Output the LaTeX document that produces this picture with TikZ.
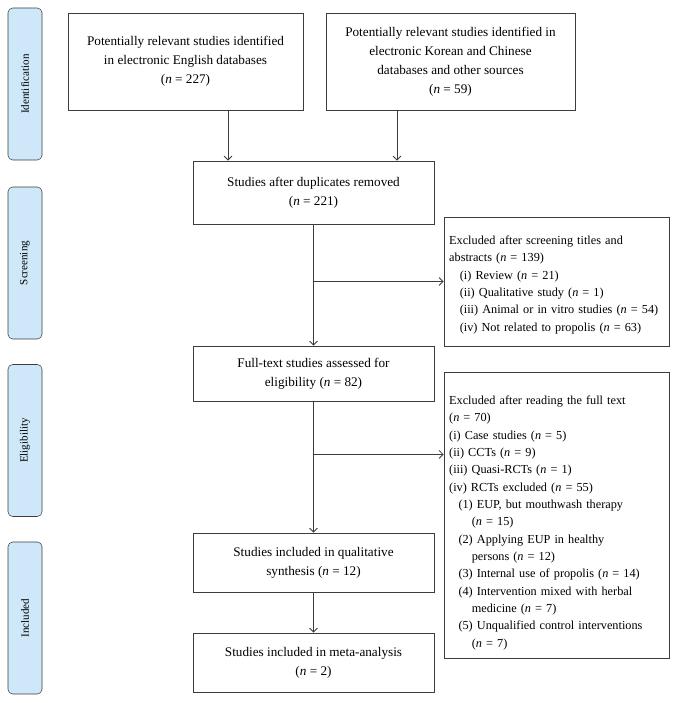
\documentclass[tikz,border=0pt]{standalone}
\usepackage{fontspec}
\setmainfont{Liberation Serif}
\usetikzlibrary{arrows.meta}
\definecolor{tabblue}{RGB}{206,232,250}
\definecolor{linegray}{RGB}{60,60,60}
\newcommand{\nn}{\textit{n}}
\begin{document}
\begin{tikzpicture}[x=0.75pt,y=0.75pt,yscale=-1,xscale=1,
	>={Straight Barb[length=3pt,width=6pt]},
	stagetab/.style={draw=linegray, fill=tabblue, rounded corners=3.5pt, rotate=90, minimum width=114pt, minimum height=25.5pt, inner sep=0pt, font=\fontsize{8.3}{10}\selectfont},
	flowbox/.style={draw=linegray, line width=0.6pt, align=center, inner sep=2pt, font=\fontsize{9.9}{14.25}\selectfont},
	mainbox/.style={flowbox, minimum width=180.75pt},
	sidebox/.style={flowbox, align=left, minimum width=168.75pt, text width=161pt, inner xsep=3.75pt, font=\fontsize{9.2}{13}\selectfont},
	link/.style={draw=linegray, line width=0.6pt}]
	\useasboundingbox (0,0) rectangle (678,703);

	%Shape: stage tabs
	\node[stagetab] (tabid) at (25,84) {Identification};
	\node[stagetab] (tabscr) at (25,263) {Screening};
	\node[stagetab] (tabelig) at (25,440.5) {Eligibility};
	\node[stagetab] (tabincl) at (25,618) {Included};

	%Shape: Identification boxes
	\node[flowbox, minimum width=176.25pt, minimum height=72.75pt] (english) at (185.5,61.5) {Potentially relevant studies identified\\ in electronic English databases\\ (\nn{} = 227)};
	\node[flowbox, minimum width=186.75pt, minimum height=72.75pt] (korean) at (450.5,61.5) {Potentially relevant studies identified in\\ electronic Korean and Chinese\\ databases and other sources\\ (\nn{} = 59)};

	%Shape: main column
	\node[mainbox, minimum height=47.25pt] (dupl) at (313.5,192.5) {Studies after duplicates removed\\ (\nn{} = 221)};
	\node[mainbox, minimum height=41.25pt] (fulltext) at (313.5,373.5) {Full-text studies assessed for\\ eligibility (\nn{} = 82)};
	\node[mainbox, minimum height=44.25pt] (qualit) at (313.5,562.5) {Studies included in qualitative\\ synthesis (\nn{} = 12)};
	\node[mainbox, minimum height=44.25pt] (meta) at (313.5,662.5) {Studies included in meta-analysis\\ (\nn{} = 2)};

	%Shape: exclusion boxes
	\node[sidebox, minimum height=96.75pt] (exscreen) at (556.5,281.5) {\rule{0pt}{11.5pt}Excluded after screening titles and\\ abstracts (\nn{} = 139)\\
		\hspace*{8pt}(i) Review (\nn{} = 21)\\
		\hspace*{8pt}(ii) Qualitative study (\nn{} = 1)\\
		\hspace*{8pt}\mbox{(iii) Animal or in vitro studies (\nn{} = 54)}\\
		\hspace*{8pt}(iv) Not related to propolis (\nn{} = 63)};
	\node[sidebox, minimum height=214.5pt] (exfull) at (556.5,515) {\rule{0pt}{18pt}Excluded after reading the full text\\ (\nn{} = 70)\\
		(i) Case studies (\nn{} = 5)\\
		(ii) CCTs (\nn{} = 9)\\
		(iii) Quasi-RCTs (\nn{} = 1)\\
		(iv) RCTs excluded (\nn{} = 55)\\
		\hspace*{7pt}(1) EUP, but mouthwash therapy\\
		\hspace*{17pt}(\nn{} = 15)\\
		\hspace*{7pt}(2) Applying EUP in healthy\\
		\hspace*{17pt}persons (\nn{} = 12)\\
		\hspace*{7pt}(3) Internal use of propolis (\nn{} = 14)\\
		\hspace*{7pt}(4) Intervention mixed with herbal\\
		\hspace*{17pt}medicine (\nn{} = 7)\\
		\hspace*{7pt}\mbox{(5) Unqualified control interventions}\\
		\hspace*{17pt}(\nn{} = 7)};

	%Straight Lines
	\coordinate (colA) at (228,0);
	\coordinate (colB) at (397,0);
	\path (fulltext.south) ++(0,53) coordinate (split2);
	\draw[link,->] (english.south -| colA) -- (dupl.north -| colA);
	\draw[link,->] (korean.south -| colB) -- (dupl.north -| colB);
	\draw[link,->] (dupl.south) -- (fulltext.north);
	\draw[link,->] (dupl.south |- exscreen.west) -- (exscreen.west);
	\draw[link,->] (fulltext.south) -- (qualit.north);
	\draw[link,->] (split2) -- (split2 -| exfull.west);
	\draw[link,->] (qualit.south) -- (meta.north);

\end{tikzpicture}
\end{document}
